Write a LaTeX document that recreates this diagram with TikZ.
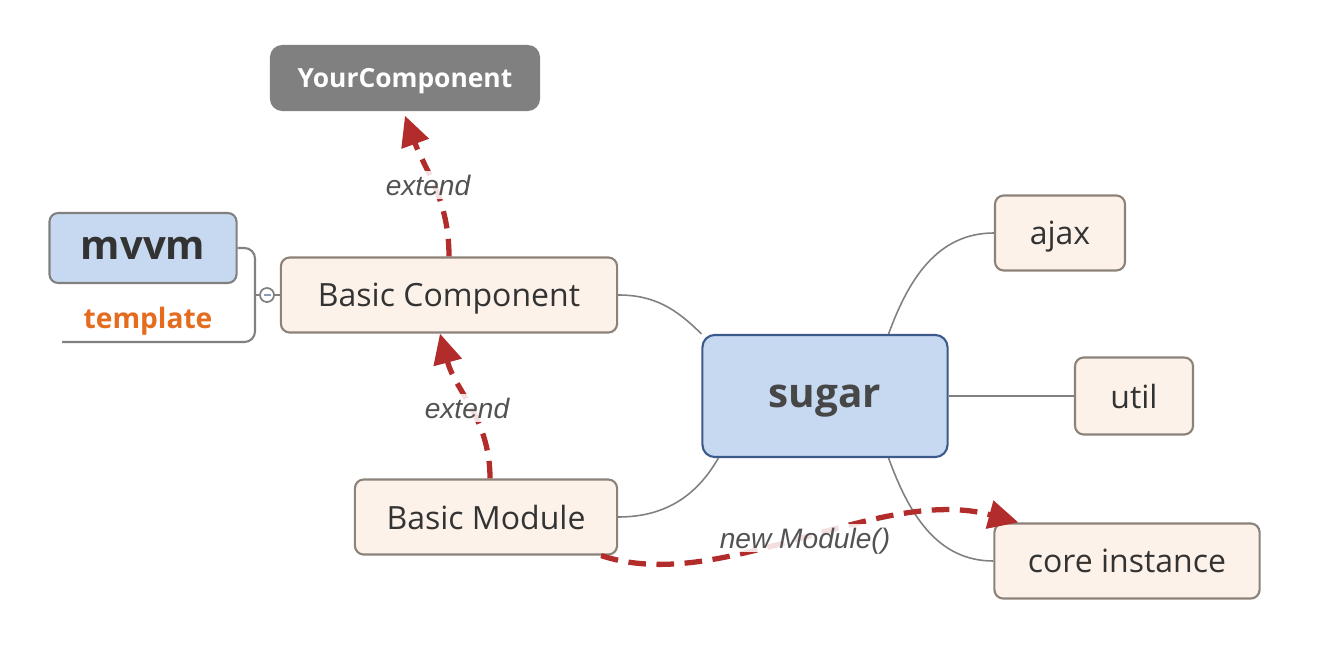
\documentclass[tikz,border=0pt]{standalone}
\usepackage{fontspec}
\setmainfont{Open Sans}
\newfontfamily\linkfont{Liberation Sans}
\usetikzlibrary{arrows.meta}
\definecolor{peach}{HTML}{FDF2E9}
\definecolor{peachline}{HTML}{8C8279}
\definecolor{sky}{HTML}{C6D9F1}
\definecolor{skyline}{HTML}{3D5A8C}
\definecolor{twig}{HTML}{808080}
\definecolor{extred}{HTML}{B22C2C}
\definecolor{ink}{HTML}{333333}
\definecolor{tagorange}{HTML}{E46C1F}
\tikzset{
every node/.append style={text depth=0pt},
topic/.style={draw=peachline, fill=peach, line width=0.6pt,
    rounded corners=2.5pt, text=ink, font=\fontsize{9.1}{11}\selectfont,
    minimum height=0.75cm},
root/.style={draw=skyline, fill=sky, line width=0.6pt, rounded corners=3.5pt,
    text=ink!90, font=\bfseries\fontsize{11.5}{13}\selectfont,
    minimum width=2.45cm, minimum height=1.22cm},
custom/.style={fill=twig, rounded corners=3.5pt, text=white,
    font=\bfseries\fontsize{7.5}{9}\selectfont, minimum width=2.7cm,
    minimum height=0.66cm},
mixin/.style={draw=twig, fill=sky, line width=0.6pt, rounded corners=2.5pt,
    text=ink, font=\bfseries\fontsize{11.4}{14}\selectfont,
    minimum width=1.87cm, minimum height=0.70cm},
twig/.style={draw=twig, line width=0.45pt},
extendarrow/.style={draw=extred, line width=1.5pt, dash pattern=on 5pt off 3pt,
    -{Triangle[length=8.5pt,width=8pt]}},
linklabel/.style={font=\linkfont\itshape\fontsize{8}{9}\selectfont,
    text=ink!85, fill=white, fill opacity=0.85, text opacity=1, inner sep=1pt}
}
\begin{document}
\begin{tikzpicture}[x=0.01cm, y=0.01cm]
\useasboundingbox (0,0) rectangle (1330,660);
\node[root] (sugar) at (825,264) {sugar};
\node[topic, minimum width=3.36cm] (bc) at (449,365) {Basic Component};
\node[topic, minimum width=2.62cm] (bm) at (486,143) {Basic Module};
\node[topic, minimum width=1.30cm] (ajax) at (1060,427) {ajax};
\node[topic, minimum width=1.18cm, minimum height=0.77cm] (util) at (1134,264) {util};
\node[topic, minimum width=2.65cm] (core) at (1127,99) {core instance};
\node[custom] (yc) at (405,582) {YourComponent};
\node[mixin] (mvvm) at (143,412) {mvvm};
\node[text=tagorange, font=\bfseries\fontsize{8}{10}\selectfont] (tpl) at (148,342) {template};
\node[circle, draw=twig, fill=white, line width=0.5pt, minimum size=0.14cm,
    inner sep=0pt] (fold) at (267,365) {};
\draw[skyline!60, line width=0.5pt] (fold.center) ++(-3.5,0) -- ++(7,0);

% mvvm / template bracket
\coordinate (brace) at (255,318);
\coordinate (braceend) at (62,318);
\draw[twig, line width=0.6pt, rounded corners=3pt] (mvvm.east) -| (brace) -- (braceend);
\draw[twig] (brace |- fold) -- (fold.west) (fold.east) -- (bc.west);

\draw[twig] (bc.east) to[out=0, in=135] (sugar.north west);
\draw[twig] (bm.east) to[out=0, in=-120] ([xshift=0.17cm]sugar.south west);
\draw[twig] ([xshift=-0.6cm]sugar.north east) to[out=70, in=180] (ajax.west);
\draw[twig] (sugar.east) -- (util.west);
\draw[twig] ([xshift=-0.6cm]sugar.south east) to[out=-70, in=180] (core.west);

\draw[extendarrow] (bc.north) to[out=90, in=-70] ([yshift=-0.04cm]yc.south);
\draw[extendarrow] ([xshift=0.04cm]bm.north) to[out=90, in=-75] ([xshift=-0.09cm]bc.south);
\draw[extendarrow] ([xshift=-0.17cm]bm.south east)
    .. controls +(120,-40) and +(-140,38) .. ([xshift=0.25cm]core.north west);
\node[linklabel] (lab1) at (428,475) {extend};
\node[linklabel] (lab2) at (467,252) {extend};
\node[linklabel] (lab3) at (805,122) {new Module()};
\end{tikzpicture}
\end{document}
